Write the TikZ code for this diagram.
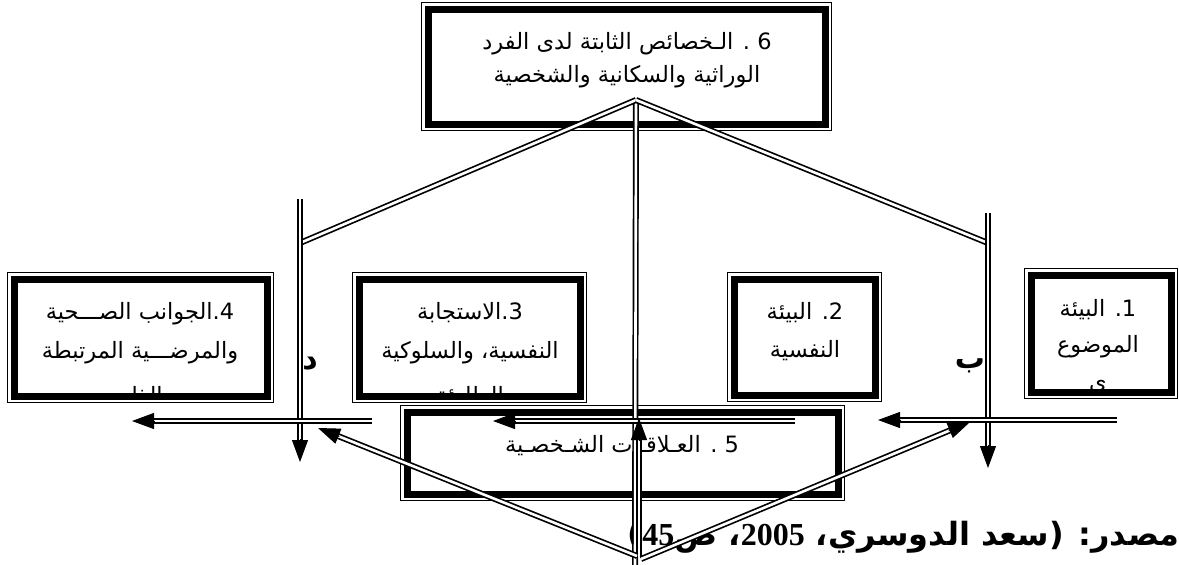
\documentclass[tikz,border=0pt]{standalone}
\usepackage{fontspec}
\newfontfamily\arfont[Script=Arabic]{DejaVu Sans}
\newfontfamily\digfont{Liberation Serif}
\TeXXeTstate=1
\usetikzlibrary{arrows.meta,calc}
\newcommand\dblarrow[2]{%
  \draw[conn, shorten >=15pt] (#1) -- (#2);
  \draw[tipline] ($(#2)!23pt!(#1)$) -- (#2);}
\newcommand\sep{\kern0pt }
\begin{document}
\begin{tikzpicture}[x=1pt,y=-1pt,
  bx/.style={draw, line width=7pt, outer sep=0pt, inner sep=0pt},
  thinframe/.style={line width=1.2pt},
  txt/.style={font=\arfont\fontsize{22.5}{27}\selectfont, inner sep=0pt, anchor=base},
  lbl/.style={font=\arfont\bfseries\fontsize{30}{34}\selectfont, inner sep=0pt},
  conn/.style={draw, line width=1.7pt, double=white, double distance=2.6pt},
  tipline/.style={-{Triangle[length=22pt,width=16pt]}, line width=1pt},
]
\useasboundingbox (0,0) rectangle (1179,565);
\fill[white] (0,0) rectangle (1179,565);

% boxes (thick line, centre of band)
\node[bx, minimum width=397, minimum height=115] (b6) at (626.5,66.5) {};
\node[bx, minimum width=140, minimum height=117] (b1) at (1101,333.5) {};
\node[bx, minimum width=141, minimum height=116] (b2) at (804.5,337) {};
\node[bx, minimum width=221, minimum height=117] (b3) at (469.5,337.5) {};
\node[bx, minimum width=253, minimum height=117] (b4) at (140.5,337.5) {};
\node[bx, minimum width=431, minimum height=82] (b5) at (622.5,453) {};
\foreach \b in {b1,b2,b3,b4,b5,b6}
  \draw[thinframe] ([shift={(-6.5,-6.5)}]\b.north west) rectangle ([shift={(6.5,6.5)}]\b.south east);

% texts
\node[txt] (t6a) at (627,49) {\beginR 6 . الـخصائص الثابتة لدى الفرد\endR};
\node[txt] (t6b) at (627,82) {\beginR الوراثية والسكانية والشخصية\endR};
\node[txt] (t2a) at (805,319) {\beginR 2\sep. البيئة\endR};
\node[txt] (t2b) at (805,357) {\beginR النفسية\endR};
\node[txt] (t5) at (622,452) {\beginR 5 . العـلاقـات الشـخصـية\endR};
\begin{scope}
  \clip ([shift={(3.5,3.5)}]b1.north west) rectangle ([shift={(-3.5,-3.5)}]b1.south east);
  \node[txt] (t1a) at (1098,316) {\beginR 1\sep. البيئة\endR};
  \node[txt] (t1b) at (1098,352) {\beginR الموضوع\endR};
  \node[txt] (t1c) at (1098,389) {\beginR ي\endR};
\end{scope}
\begin{scope}
  \clip ([shift={(3.5,3.5)}]b3.north west) rectangle ([shift={(-3.5,-3.5)}]b3.south east);
  \node[txt] (t3a) at (470,319) {\beginR 3\sep.\sep الاستجابة\endR};
  \node[txt] (t3b) at (470,358) {\beginR النفسية\sep، والسلوكية\endR};
  \node[txt] (t3c) at (470,403) {\beginR الطارئة\endR};
\end{scope}
\begin{scope}
  \clip ([shift={(3.5,3.5)}]b4.north west) rectangle ([shift={(-3.5,-3.5)}]b4.south east);
  \node[txt] (t4a) at (140,319) {\beginR 4\sep.\sep الجوانب الصـــحية\endR};
  \node[txt] (t4b) at (140,358) {\beginR والمرضـــية المرتبطة\endR};
  \node[txt] (t4c) at (140,403) {\beginR بالذات\endR};
\end{scope}

% letters
\node[lbl] (ld) at (310,364) {د};
\node[lbl] (lb) at (970,366) {ب};

% caption
\node[font=\arfont\bfseries\fontsize{32}{36}\selectfont, inner sep=0pt, anchor=base east] (cap) at (1180,545)
  {\beginR مصدر: (\sep سعد الدوسري\sep، \beginL{\digfont\bfseries 2005}\endL، ص\beginL{\digfont\bfseries 45}\endL)\endR};

% coordinates
\coordinate (apex) at (636,100);
\coordinate (vbot) at (635,565);
\coordinate (bot) at (639,558);
\coordinate (upE) at (639,418);
\coordinate (lvTop) at (300,199);
\coordinate (lvMid) at (300,243);
\coordinate (lvEnd) at (300,462);
\coordinate (rvTop) at (988,213);
\coordinate (rvMid) at (988,243);
\coordinate (rvEnd) at (988,468);
\coordinate (rhS) at (1117,420);
\coordinate (rhE) at (878,420);
\coordinate (mhS) at (795,421);
\coordinate (mhE) at (493,421);
\coordinate (lhS) at (372,421);
\coordinate (lhE) at (132,421);
\coordinate (bl) at (637,556);
\coordinate (br) at (641,559);
\coordinate (ldE) at (318,428);
\coordinate (rdE) at (970,422);

% connectors
\draw[conn] (apex) -- (vbot);
\draw[conn] (apex) -- (lvMid);
\draw[conn] (apex) -- (rvMid);
\dblarrow{lvTop}{lvEnd}
\dblarrow{rvTop}{rvEnd}
\dblarrow{rhS}{rhE}
\dblarrow{mhS}{mhE}
\dblarrow{lhS}{lhE}
\dblarrow{bot}{upE}
\dblarrow{bl}{ldE}
\dblarrow{br}{rdE}
\end{tikzpicture}
\end{document}
